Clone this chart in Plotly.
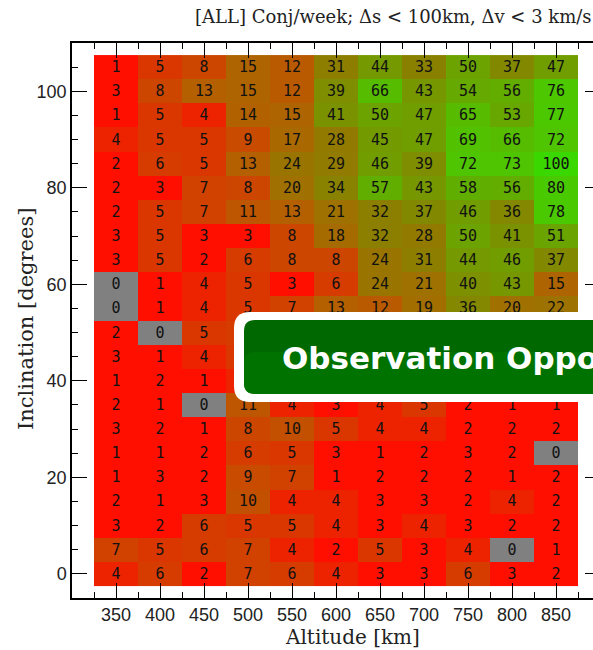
import plotly.graph_objects as go

# ---------------- data ----------------
altitudes = [350, 400, 450, 500, 550, 600, 650, 700, 750, 800, 850]
inclinations = [0, 5, 10, 15, 20, 25, 30, 35, 40, 45, 50, 55,
                60, 65, 70, 75, 80, 85, 90, 95, 100, 105]
# conjunctions per week, one row per inclination (ascending)
conj_0   = [4, 6, 2, 7, 6, 4, 3, 3, 6, 3, 2]
conj_5   = [7, 5, 6, 7, 4, 2, 5, 3, 4, 0, 1]
conj_10  = [3, 2, 6, 5, 5, 4, 3, 4, 3, 2, 2]
conj_15  = [2, 1, 3, 10, 4, 4, 3, 3, 2, 4, 2]
conj_20  = [1, 3, 2, 9, 7, 1, 2, 2, 2, 1, 2]
conj_25  = [1, 1, 2, 6, 5, 3, 1, 2, 3, 2, 0]
conj_30  = [3, 2, 1, 8, 10, 5, 4, 4, 2, 2, 2]
conj_35  = [2, 1, 0, 11, 4, 3, 4, 5, 2, 1, 1]
conj_40  = [1, 2, 1, 4, 3, 2, 2, 2, 1, 1, 1]
conj_45  = [3, 1, 4, 5, 4, 3, 3, 2, 2, 1, 2]
conj_50  = [2, 0, 5, 6, 7, 6, 5, 4, 3, 3, 2]
conj_55  = [0, 1, 4, 5, 7, 13, 12, 19, 36, 20, 22]
conj_60  = [0, 1, 4, 5, 3, 6, 24, 21, 40, 43, 15]
conj_65  = [3, 5, 2, 6, 8, 8, 24, 31, 44, 46, 37]
conj_70  = [3, 5, 3, 3, 8, 18, 32, 28, 50, 41, 51]
conj_75  = [2, 5, 7, 11, 13, 21, 32, 37, 46, 36, 78]
conj_80  = [2, 3, 7, 8, 20, 34, 57, 43, 58, 56, 80]
conj_85  = [2, 6, 5, 13, 24, 29, 46, 39, 72, 73, 100]
conj_90  = [4, 5, 5, 9, 17, 28, 45, 47, 69, 66, 72]
conj_95  = [1, 5, 4, 14, 15, 41, 50, 47, 65, 53, 77]
conj_100 = [3, 8, 13, 15, 12, 39, 66, 43, 54, 56, 76]
conj_105 = [1, 5, 8, 15, 12, 31, 44, 33, 50, 37, 47]

counts = [conj_0, conj_5, conj_10, conj_15, conj_20, conj_25, conj_30,
          conj_35, conj_40, conj_45, conj_50, conj_55, conj_60, conj_65,
          conj_70, conj_75, conj_80, conj_85, conj_90, conj_95, conj_100,
          conj_105]

x_ticks = [350, 400, 450, 500, 550, 600, 650, 700, 750, 800, 850]
y_ticks = [0, 20, 40, 60, 80, 100]

title_text = "[ALL] Conj/week; \u0394s < 100km, \u0394v < 3 km/s"
banner_text = "Observation Opportunities"

# cells hidden behind the banner (their labels are not drawn)
hidden_incl = [40, 45, 50]
hidden_alt_min = 500

# ---------------- style ----------------
ZMAX = 100.0
anchors = [
    (0.0, "rgb(128,128,128)"),
    (0.5, "rgb(128,128,128)"),
    (0.5, "rgb(255,15,0)"),
    (3.0, "rgb(255,15,0)"),
    (5.0, "rgb(218,55,0)"),
    (8.0, "rgb(205,70,0)"),
    (13.0, "rgb(180,95,0)"),
    (20.0, "rgb(160,112,0)"),
    (33.0, "rgb(138,128,0)"),
    (45.0, "rgb(115,155,0)"),
    (55.0, "rgb(100,170,0)"),
    (70.0, "rgb(80,195,0)"),
    (100.0, "rgb(58,215,0)"),
]
colorscale = [[v / ZMAX, c] for v, c in anchors]

W, H = 615, 650
L, R, T, B = 72, W - 600, 43, 52
PW, PH = W - L - R, H - T - B

cell_text = []
for inc, row in zip(inclinations, counts):
    cell_text.append([
        "" if (inc in hidden_incl and alt >= hidden_alt_min) else str(v)
        for alt, v in zip(altitudes, row)
    ])

fig = go.Figure()
fig.add_trace(go.Heatmap(
    x=altitudes, y=inclinations, z=counts,
    text=cell_text,
    texttemplate="%{text}",
    textfont=dict(family="DejaVu Sans Mono", size=15, color="#111"),
    colorscale=colorscale, zmin=0, zmax=ZMAX, showscale=False,
    xgap=0, ygap=0, hoverinfo="skip",
))

axis_common = dict(
    showline=True, linecolor="black", linewidth=1.5, mirror="ticks",
    ticks="inside", ticklen=15, tickwidth=1, tickcolor="black",
    showgrid=False, zeroline=False,
    tickfont=dict(family="Liberation Sans", size=18, color="#222"),
)
fig.update_xaxes(range=[300, 900], tickmode="array", tickvals=x_ticks,
                 minor=dict(dtick=25, tick0=300, ticklen=6, ticks="inside",
                            tickcolor="black", showgrid=False),
                 **axis_common)
fig.update_yaxes(range=[-5, 110], tickmode="array", tickvals=y_ticks,
                 minor=dict(dtick=5, tick0=0, ticklen=6, ticks="inside",
                            tickcolor="black", showgrid=False),
                 **axis_common)

def px_x(p):
    return (p - L) / PW

def px_y(p):
    return (H - B - p) / PH

# rounded rectangle path helper (pixel coords, y up, relative to anchor)
def rrect(x0, y0, x1, y1, r):
    return (f"M{x0+r},{y0} L{x1-r},{y0} Q{x1},{y0} {x1},{y0+r} "
            f"L{x1},{y1-r} Q{x1},{y1} {x1-r},{y1} L{x0+r},{y1} "
            f"Q{x0},{y1} {x0},{y1-r} L{x0},{y0+r} Q{x0},{y0} {x0+r},{y0} Z")

base_y = H - B
shape_common = dict(type="path", xref="paper", yref="paper",
                    xsizemode="pixel", ysizemode="pixel",
                    xanchor=0, yanchor=0, layer="above", line=dict(width=0))
fig.add_shape(path=rrect(234 - L, base_y - 402, 700 - L, base_y - 312, 16),
              fillcolor="white", **shape_common)
fig.add_shape(path=rrect(244 - L, base_y - 394, 700 - L, base_y - 320, 11),
              fillcolor="rgb(0,104,0)", **shape_common)
fig.add_shape(path=rrect(244 - L, base_y - 394, 700 - L, base_y - 352, 11),
              fillcolor="rgb(0,118,0)", opacity=0.7, **shape_common)

annotations = [
    dict(text=banner_text, x=px_x(280), y=px_y(358), xref="paper", yref="paper",
         xanchor="left", yanchor="middle", showarrow=False,
         font=dict(family="DejaVu Sans", size=31, color="white", weight="bold")),
    dict(text=title_text, x=px_x(193), y=px_y(16), xref="paper", yref="paper",
         xanchor="left", yanchor="middle", showarrow=False,
         font=dict(family="DejaVu Serif", size=18, color="#222")),
    dict(text="Altitude [km]", x=px_x(352), y=px_y(637), xref="paper", yref="paper",
         xanchor="center", yanchor="middle", showarrow=False,
         font=dict(family="DejaVu Serif", size=20, color="#222")),
    dict(text="Inclination [degrees]", x=px_x(26), y=px_y(319), xref="paper",
         yref="paper", xanchor="center", yanchor="middle", showarrow=False,
         textangle=-90,
         font=dict(family="DejaVu Serif", size=21, color="#222")),
]

fig.update_layout(
    width=W, height=H, autosize=False,
    margin=dict(l=L, r=R, t=T, b=B, pad=0),
    paper_bgcolor="white", plot_bgcolor="white",
    annotations=annotations, showlegend=False,
)

fig.write_html("out.html",
               config={"displayModeBar": False},
               post_script="document.body.style.margin='0';"
                           "document.body.style.overflow='hidden';")
